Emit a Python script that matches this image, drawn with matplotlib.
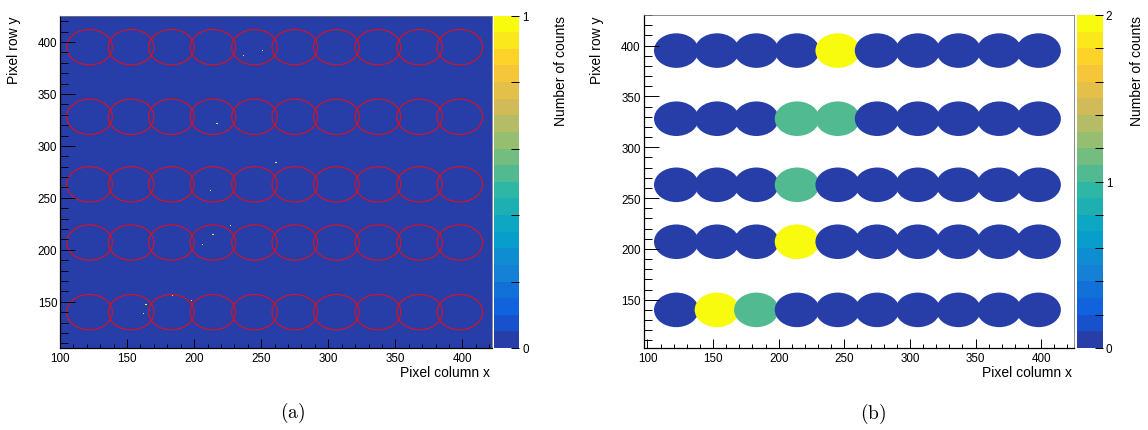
import numpy as np
import matplotlib
matplotlib.use('Agg')
import matplotlib.pyplot as plt
from matplotlib.colors import ListedColormap, Normalize
from matplotlib.cm import ScalarMappable
from matplotlib.patches import Ellipse
from matplotlib.ticker import MultipleLocator, FuncFormatter

plt.rcParams['font.family'] = ['Liberation Sans', 'DejaVu Sans']
plt.rcParams['mathtext.fontset'] = 'cm'

# ring centres (pixel column / pixel row) and radius
ring_x = [122, 153, 183, 214, 245, 275, 306, 337, 368, 398]
ring_y = [140, 207, 263, 328, 395]
ring_r = 17

# single pixel hits of panel (a)
hit_x = [237, 251, 217, 233, 261, 212, 227, 214, 206, 184, 198, 164, 162]
hit_y = [387, 392, 322, 316, 284, 257, 223, 215, 205, 156, 151, 147, 139]

# counts per ring for panel (b), rows from bottom to top
ring_counts = [
    [0, 2, 1, 0, 0, 0, 0, 0, 0, 0],
    [0, 0, 0, 2, 0, 0, 0, 0, 0, 0],
    [0, 0, 0, 1, 0, 0, 0, 0, 0, 0],
    [0, 0, 0, 1, 1, 0, 0, 0, 0, 0],
    [0, 0, 0, 0, 2, 0, 0, 0, 0, 0],
]

# ROOT kBird palette, 20 contour levels
stops = [0.0, 0.125, 0.25, 0.375, 0.5, 0.625, 0.75, 0.875, 1.0]
red = [0.2082, 0.0592, 0.0780, 0.0232, 0.1802, 0.5301, 0.8186, 0.9956, 0.9764]
green = [0.1664, 0.3599, 0.5041, 0.6419, 0.7178, 0.7492, 0.7328, 0.7862, 0.9832]
blue = [0.5293, 0.8684, 0.8385, 0.7914, 0.6425, 0.4662, 0.3499, 0.1968, 0.0539]


def bird(nlev=20, ncol=255):
    cols = []
    for i in range(nlev):
        f = int((i + 0.99) * ncol / nlev) / (ncol - 1)
        cols.append((np.interp(f, stops, red), np.interp(f, stops, green),
                     np.interp(f, stops, blue)))
    return ListedColormap(cols)


cmap = bird()

W, H = 1148, 431
fig = plt.figure(figsize=(W / 100, H / 100), dpi=100)


def box(l, r, t, b):
    return [l / W, 1 - b / H, (r - l) / W, (b - t) / H]


def style_axes(ax):
    ax.xaxis.set_major_locator(MultipleLocator(50))
    ax.xaxis.set_minor_locator(MultipleLocator(10))
    ax.yaxis.set_major_locator(MultipleLocator(50))
    ax.yaxis.set_minor_locator(MultipleLocator(10))
    ax.tick_params(axis='both', which='both', direction='in', width=0.7,
                   labelsize=8.4, top=False, right=False)
    ax.tick_params(axis='x', which='major', length=6.5, pad=3)
    ax.tick_params(axis='x', which='minor', length=3.2)
    ax.tick_params(axis='y', which='major', length=11, pad=2)
    ax.tick_params(axis='y', which='minor', length=5.5)
    for s in ('left', 'bottom'):
        ax.spines[s].set_linewidth(0.9)
    for s in ('top', 'right'):
        ax.spines[s].set_linewidth(0.6)
        ax.spines[s].set_color('#777777')


def colorbar(cax, norm, top):
    cb = fig.colorbar(ScalarMappable(norm=norm, cmap=cmap), cax=cax)
    cb.outline.set_visible(False)
    cb.set_ticks(np.arange(0, top + 0.01, 0.2))
    cb.formatter = FuncFormatter(lambda v, p: '%d' % round(v) if abs(v - round(v)) < 1e-6 else '')
    cb.update_ticks()
    cax.tick_params(axis='y', direction='in', length=5.5, width=0.7,
                    labelsize=8.4, pad=2)
    cax.minorticks_off()
    return cb


# ---- panel (a): raw pixel hits with ring outlines
ax1 = fig.add_axes(box(60, 492, 16.5, 349))
xe = np.arange(99.5, 423.5, 1)
ye = np.arange(104.5, 427.5, 1)
counts, _, _ = np.histogram2d(hit_x, hit_y, bins=[xe, ye])
norm1 = Normalize(0, 1)
ax1.pcolormesh(xe, ye, counts.T, cmap=cmap, norm=norm1, rasterized=True)
for yc in ring_y:
    for xc in ring_x:
        ax1.add_patch(Ellipse((xc, yc), 2 * ring_r, 2 * ring_r, fill=False,
                              edgecolor='#e0101e', lw=0.8))
ax1.set_xlim(100, 422)
ax1.set_ylim(105.5, 425.5)
style_axes(ax1)

cax1 = fig.add_axes(box(494, 519.3, 16.5, 349))
colorbar(cax1, norm1, 1)

# ---- panel (b): counts per ring
ax2 = fig.add_axes(box(643.5, 1074, 16, 349))
norm2 = Normalize(0, 2)
for j, yc in enumerate(ring_y):
    for i, xc in enumerate(ring_x):
        ax2.add_patch(Ellipse((xc, yc), 2 * ring_r, 2 * ring_r, lw=0,
                              facecolor=cmap(norm2(ring_counts[j][i]))))
ax2.set_xlim(97, 425)
ax2.set_ylim(102.5, 430)
style_axes(ax2)

cax2 = fig.add_axes(box(1077.3, 1103, 16, 349))
colorbar(cax2, norm2, 2)

# ---- axis titles
for xr, xl, xc in ((490, 14, 561), (1072, 597.5, 1137.4)):
    fig.text(xr / W, 1 - 373.5 / H, 'Pixel column x', ha='right', va='center', fontsize=10)
    fig.text(xl / W, 1 - 16.5 / H, 'Pixel row y', rotation=90, ha='center', va='top', fontsize=10)
    fig.text(xc / W, 1 - 16.5 / H, 'Number of counts', rotation=90, ha='center', va='top', fontsize=10)

fig.text(293 / W, 1 - 413 / H, r'$\mathrm{(a)}$', ha='center', va='center', fontsize=14)
fig.text(873 / W, 1 - 414 / H, r'$\mathrm{(b)}$', ha='center', va='center', fontsize=14)

fig.savefig('out.png', dpi=100)
